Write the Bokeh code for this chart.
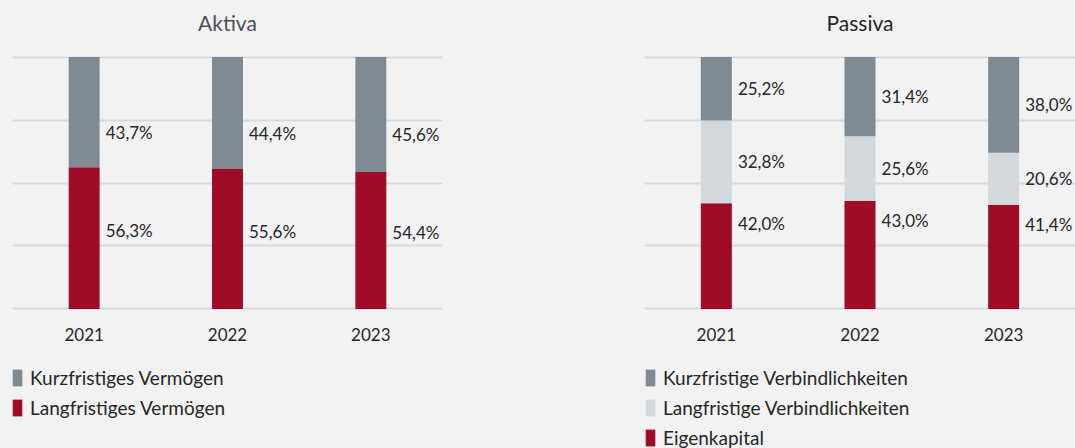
from bokeh.plotting import figure
from bokeh.layouts import row, column
from bokeh.models import (ColumnDataSource, Range1d, FixedTicker, Legend, LegendItem,
                          Title, LabelSet)
from bokeh.core.properties import value
from bokeh.embed import file_html
from bokeh.resources import INLINE

years = ["2021", "2022", "2023"]

# Aktiva
aktiva_kurz = [43.7, 44.4, 45.6]
aktiva_lang = [56.3, 55.6, 54.4]
aktiva_names = ["Kurzfristiges Vermögen", "Langfristiges Vermögen"]

# Passiva
passiva_kurz = [25.2, 31.4, 38.0]
passiva_lang = [32.8, 25.6, 20.6]
passiva_ek = [42.0, 43.0, 41.4]
passiva_names = ["Kurzfristige Verbindlichkeiten", "Langfristige Verbindlichkeiten", "Eigenkapital"]

BG = "#f2f2f2"
DARK = "#808a92"
LIGHT = "#d3d8dc"
RED = "#a00c27"
GRID = "#d6dadd"
TXT = "#262626"
FONT = "Lato"


def fmt(v):
    return f"{v:.1f}%".replace(".", ",")


def make_fig(title, title_color, series, colors, names, label_shift, min_left, min_right,
             width_frame, legend_x):
    n = len(years)
    xs = [i + 0.5 for i in range(n)]
    p = figure(output_backend="svg", toolbar_location=None,
               frame_width=width_frame, frame_height=257,
               x_range=Range1d(0, n), y_range=Range1d(-1, 101),
               min_border_left=min_left, min_border_right=min_right,
               min_border_top=54, min_border_bottom=40,
               background_fill_color=BG, border_fill_color=BG, outline_line_color=None)
    p.add_layout(Title(text=" ", text_font_size="1px", standoff=17), "above")
    p.add_layout(Title(text=title, align="center", text_font=FONT, text_font_size="21px",
                       text_font_style="normal", text_color=title_color, standoff=0), "above")
    total_w = min_left + width_frame + min_right
    # legend strip below the chart (helper bars have zero height and lie outside its ranges)
    lf = figure(output_backend="svg", toolbar_location=None,
                width=total_w, height=97, frame_width=total_w, frame_height=97,
                x_range=Range1d(10, 11), y_range=Range1d(150, 151),
                min_border=0, background_fill_color=BG, border_fill_color=BG,
                outline_line_color=None)
    lf.axis.visible = False
    lf.grid.visible = False
    bottoms = [0.0] * n
    items = []
    for vals, col, nm, shift in zip(series, colors, names, label_shift):
        tops = [b + v for b, v in zip(bottoms, vals)]
        src = ColumnDataSource(dict(x=xs, bottom=bottoms, top=tops,
                                    lx=[x + 0.15 for x in xs],
                                    ly=[(b + t) / 2 + shift(b, t) for b, t in zip(bottoms, tops)],
                                    lab=[fmt(v) for v in vals]))
        p.vbar(x="x", bottom="bottom", top="top", width=0.216, source=src,
               fill_color=col, line_color=None)
        p.add_layout(LabelSet(x="lx", y="ly", text="lab", source=src, text_font=value(FONT),
                              text_font_size=value("17px"), text_color=TXT,
                              text_baseline="middle", text_align="left"))
        r = lf.vbar(x="x", bottom="bottom", top="bottom", width=0.216, source=src,
                    fill_color=col, line_color=None)
        items.append((nm, r))
        bottoms = tops
    p.yaxis.visible = False
    p.xaxis.ticker = FixedTicker(ticks=xs)
    p.xaxis.major_label_overrides = {x: y for x, y in zip(xs, years)}
    p.xaxis.axis_line_color = None
    p.xaxis.major_tick_line_color = None
    p.xaxis.minor_tick_line_color = None
    p.xaxis.major_label_standoff = 10
    p.xaxis.major_label_text_font = FONT
    p.xaxis.major_label_text_font_size = "17px"
    p.xaxis.major_label_text_color = TXT
    p.xgrid.visible = False
    p.ygrid.ticker = FixedTicker(ticks=[0, 25, 50, 75, 100])
    p.ygrid.grid_line_color = GRID
    p.ygrid.grid_line_width = 2

    leg_items = [LegendItem(label=nm, renderers=[r]) for nm, r in reversed(items)]
    k = len(leg_items)
    H = 28 * k + 2 * (k - 1)
    legend = Legend(items=leg_items, location=(legend_x, 85 - H), orientation="vertical",
                    glyph_width=12, glyph_height=21, label_height=28, spacing=2,
                    padding=0, margin=0, label_standoff=7,
                    label_text_font=FONT, label_text_font_size="19px", label_text_color=TXT,
                    background_fill_alpha=0, border_line_color=None)
    lf.add_layout(legend)
    return column(p, lf, spacing=0)


pa = make_fig("Aktiva", "#4a5058", [aktiva_lang, aktiva_kurz], [RED, DARK], list(reversed(aktiva_names)),
              [lambda b, t: 3.0, lambda b, t: -8.0], 12, 98, 430, 11)
pb = make_fig("Passiva", TXT, [passiva_ek, passiva_lang, passiva_kurz], [RED, LIGHT, DARK],
              list(reversed(passiva_names)),
              [lambda b, t: (t - b) / 2 - 8.0, lambda b, t: 0.0, lambda b, t: 0.0], 104, 0, 431, 104)

layout = row(pa, pb, spacing=0, styles={"background-color": BG})
html = file_html(layout, INLINE)
html = html.replace("<body>", '<body style="background-color:#f2f2f2;">')
open("out.html", "w").write(html)
